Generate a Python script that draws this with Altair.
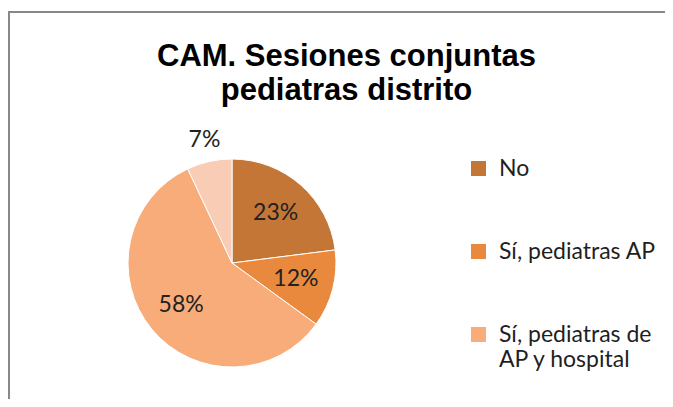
import altair as alt
import pandas as pd

categories = ["No", "Sí, pediatras AP", "Sí, pediatras de AP y hospital", "Otros"]
values = [23, 12, 58, 7]
colors = ["#C47636", "#E8893D", "#F8AC79", "#F9CCB6"]
legend_items = categories[:3]

df = pd.DataFrame({"cat": categories, "value": values, "order": list(range(len(categories)))})

W, H = 657, 388
CX, CY = 224, 252

base = alt.Chart(df).encode(
    theta=alt.Theta("value:Q", stack=True),
    order=alt.Order("order:Q"),
)

pie = base.mark_arc(outerRadius=104, stroke="white", strokeWidth=1).encode(
    x=alt.value(CX), y=alt.value(CY),
    color=alt.Color(
        "cat:N",
        scale=alt.Scale(domain=categories, range=colors),
        sort=categories,
        legend=alt.Legend(
            values=legend_items,
            title=None,
            orient="none",
            legendX=459,
            legendY=146,
            padding=0,
            symbolType="square",
            symbolSize=225,
            symbolStrokeWidth=0,
            symbolOpacity=1,
            labelFont="Lato",
            labelFontSize=23,
            labelColor="#1f1f1f",
            labelOffset=9,
            labelLimit=400,
            rowPadding=59,
            labelExpr="datum.label == 'Sí, pediatras de AP y hospital' ? ['Sí, pediatras de', 'AP y hospital'] : datum.label",
        ),
    ),
)

inner = base.mark_text(radius=66, font="Lato", fontSize=23, color="#222222").encode(
    x=alt.value(CX), y=alt.value(CY),
    text="inlab:N",
).transform_calculate(inlab="datum.value >= 10 ? datum.value + '%' : ''")

outer = base.mark_text(radius=126, font="Lato", fontSize=23, color="#222222").encode(
    x=alt.value(CX), y=alt.value(CY),
    text="outlab:N",
).transform_calculate(outlab="datum.value < 10 ? datum.value + '%' : ''")

left_border = alt.Chart(df).mark_rule(color="#888888", strokeWidth=2).encode(
    x=alt.value(1), y=alt.value(0), y2=alt.value(H)
)
top_border = alt.Chart(df).mark_rule(color="#888888", strokeWidth=2).encode(
    y=alt.value(1), x=alt.value(0), x2=alt.value(W)
)

chart = alt.layer(left_border, top_border, pie, inner, outer).properties(
    width=W,
    height=H,
    autosize=alt.AutoSizeParams(type="none"),
    padding={"left": 0, "top": 3, "right": 0, "bottom": 0},
    title=alt.Title(
        ["CAM. Sesiones conjuntas", "pediatras distrito"],
        font="Liberation Sans",
        fontSize=31,
        fontWeight="bold",
        color="#000000",
        lineHeight=34,
        anchor="middle",
        dx=10,
        offset=-97,
    ),
).configure_view(stroke=None).configure(background="white")

chart.save("out.html", embed_options={"renderer": "svg", "actions": False})
